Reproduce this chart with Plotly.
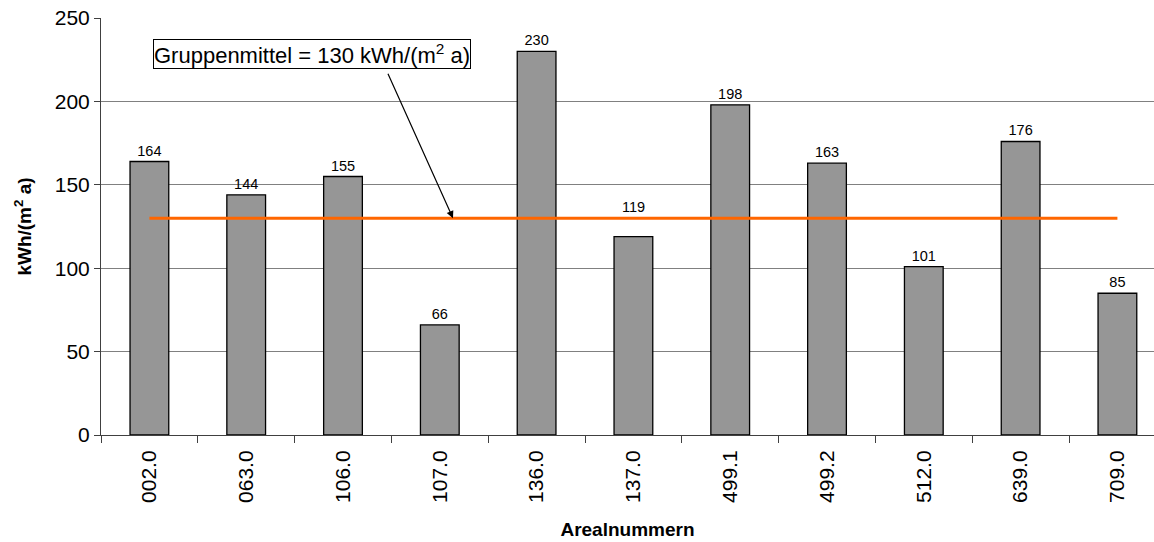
import plotly.graph_objects as go

categories = ["002.0", "063.0", "106.0", "107.0", "136.0", "137.0", "499.1", "499.2", "512.0", "639.0", "709.0"]
values = [164, 144, 155, 66, 230, 119, 198, 163, 101, 176, 85]
group_mean = 130
y_ticks = [0, 50, 100, 150, 200, 250]

FONT = "Liberation Sans, Arial, sans-serif"

# the label of 137.0 is lifted above the mean line in the original
moved_label = "137.0"
text_pos = ["none" if c == moved_label else "outside" for c in categories]

fig = go.Figure()
fig.add_trace(go.Bar(
    x=categories, y=values, width=0.4,
    marker=dict(color="#969696", line=dict(color="#000000", width=1.3)),
    text=[str(v) for v in values], textposition=text_pos, cliponaxis=False,
    textfont=dict(family=FONT, size=14.5, color="#000000"),
    showlegend=False,
))
fig.add_trace(go.Scatter(
    x=categories, y=[group_mean] * len(categories), mode="lines",
    line=dict(color="#FF6600", width=3), showlegend=False,
))

idx = categories.index(moved_label)
fig.add_annotation(x=idx, y=group_mean, yshift=1, yanchor="bottom",
                   text=str(values[idx]), showarrow=False,
                   font=dict(family=FONT, size=14.5, color="#000000"))

fig.add_annotation(
    x=1.675, y=228.4, xanchor="center", yanchor="middle",
    text="Gruppenmittel = 130 kWh/(m<sup>2</sup> a)", showarrow=False,
    font=dict(family=FONT, size=22, color="#000000"),
    bgcolor="#FFFFFF", bordercolor="#000000", borderwidth=1, borderpad=0,
)
fig.add_annotation(
    x=3.136, y=group_mean, text=" ", showarrow=True,
    ax=-68, ay=-151, arrowhead=2, arrowsize=1.2, arrowwidth=1.2,
    arrowcolor="#000000",
)

fig.update_layout(
    width=1154, height=542,
    margin=dict(l=101, r=0, t=18, b=107),
    plot_bgcolor="#FFFFFF", paper_bgcolor="#FFFFFF",
    font=dict(family=FONT, color="#000000"),
    bargap=0.6,
)
fig.update_xaxes(
    type="category", range=[-0.5, 10.378], automargin=False,
    tickangle=-90, tickfont=dict(size=21, family=FONT), ticklabelstandoff=6,
    ticks="outside", tickson="boundaries", ticklen=7, tickcolor="#404040",
    showline=True, linecolor="#404040", linewidth=1,
    showgrid=False,
    title=dict(text="<b>Arealnummern</b>", font=dict(size=19, family=FONT), standoff=20),
)
fig.update_yaxes(
    range=[0, 250.05], tickvals=y_ticks, tickfont=dict(size=21, family=FONT),
    automargin=False,
    ticks="outside", ticklen=6, tickcolor="#404040",
    showline=True, linecolor="#404040", linewidth=1,
    showgrid=True, gridcolor="#808080", gridwidth=1,
    zeroline=False,
    title=dict(text="<b>kWh/(m<sup>2</sup> a)</b>", font=dict(size=19, family=FONT), standoff=18),
)

fig.write_html("out.html", config={"displayModeBar": False},
               post_script="document.body.style.margin='0px';")
